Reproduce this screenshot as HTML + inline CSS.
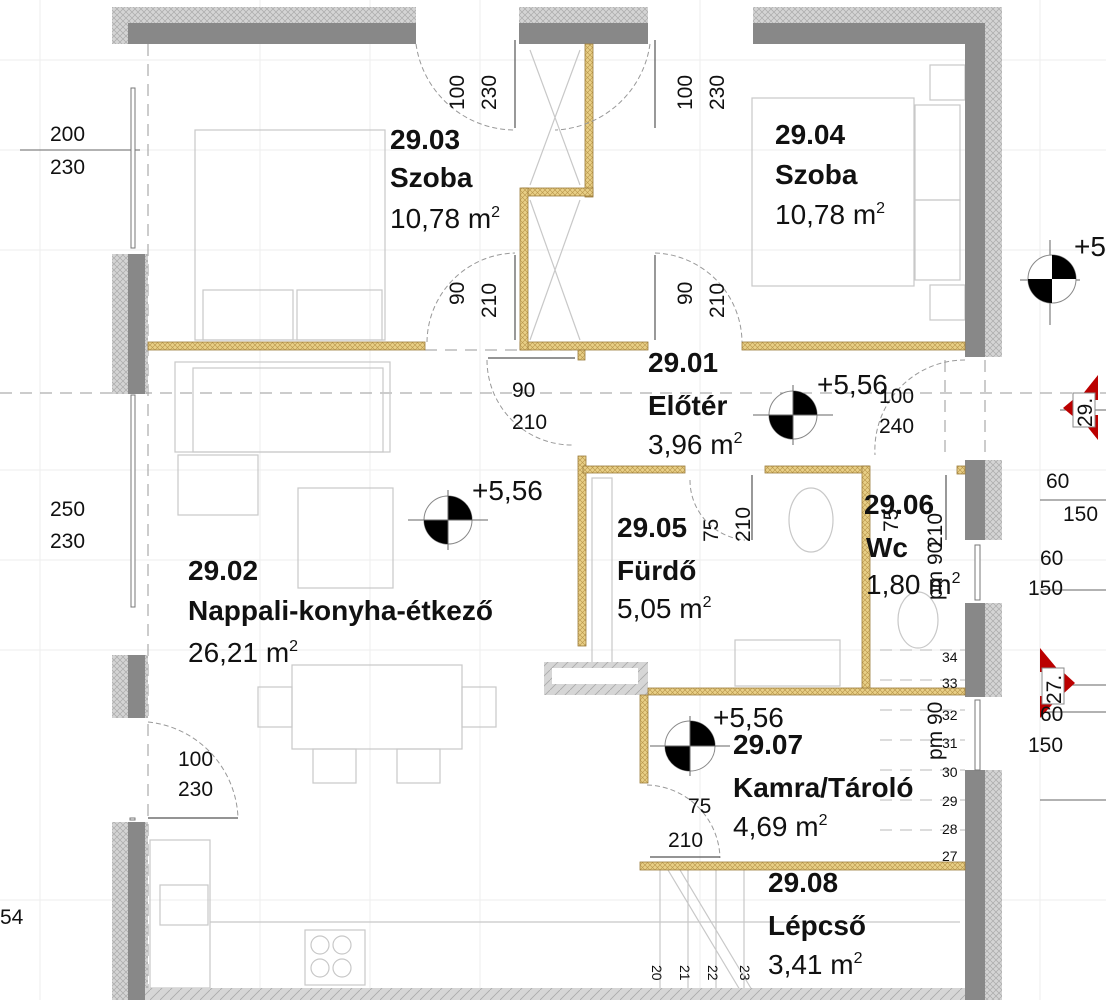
<!DOCTYPE html>
<html><head><meta charset="utf-8"><style>
html,body{margin:0;padding:0;background:#fff;}
svg{display:block;}
text{font-family:"Liberation Sans",Arial,sans-serif;fill:#111;}
.b{font-weight:bold;font-size:28px;}
.n{font-size:28px;}
.d{font-size:21px;}
.s{font-size:14px;fill:#999;}
</style></head><body>
<svg width="1106" height="1000" viewBox="0 0 1106 1000" xmlns="http://www.w3.org/2000/svg">
<defs>
<pattern id="h" width="6" height="6" patternUnits="userSpaceOnUse">
<rect width="6" height="6" fill="#d4d4d4"/><path d="M0 0L6 6M6 0L0 6" stroke="#aaa" stroke-width="0.7"/></pattern>
<pattern id="y" width="5" height="5" patternUnits="userSpaceOnUse">
<rect width="5" height="5" fill="#e8cf86"/><path d="M0 0L5 5M5 0L0 5" stroke="#b8944a" stroke-width="0.6"/></pattern>
<pattern id="g" width="10" height="10" patternUnits="userSpaceOnUse">
<rect width="10" height="10" fill="#d6d6d6"/><path d="M0 10L10 0" stroke="#aaa" stroke-width="0.8"/></pattern>
</defs>
<g stroke="#eee" stroke-width="1">
<path d="M0 60H1106M0 150H1106M0 250H1106M0 470H1106M0 560H1106M0 650H1106M0 900H1106"/>
<path d="M40 0V1000M260 0V1000M370 0V1000M480 0V1000M700 0V1000M1040 0V1000"/>
</g>
<g stroke="#999" stroke-width="1" stroke-dasharray="12 8" fill="none">
<path d="M0 393H1106"/><path d="M148 44V990"/>
<path d="M945 360V460M985 360V460"/><path d="M520 350H585M425 350H520"/>
</g>
<path d="M20 150H140M1040 590H1106M1040 800H1106M1040 500H1106M1040 712H1106M1020 280H1080M1050 240V325M1060 410H1106M1050 685H1106" stroke="#666" stroke-width="1"/>
<g stroke="#c8c8c8" stroke-width="1.2" fill="none">
<rect x="195" y="130" width="190" height="210"/>
<rect x="203" y="290" width="90" height="50"/><rect x="297" y="290" width="85" height="50"/>
<rect x="175" y="362" width="215" height="90"/>
<rect x="193" y="368" width="190" height="84"/>
<rect x="178" y="455" width="80" height="60"/>
<rect x="298" y="488" width="95" height="100"/>
<rect x="292" y="665" width="170" height="84"/>
<rect x="313" y="749" width="43" height="34"/><rect x="397" y="749" width="43" height="34"/>
<rect x="258" y="687" width="34" height="40"/><rect x="462" y="687" width="34" height="40"/>
<rect x="752" y="98" width="162" height="188"/>
<rect x="915" y="105" width="45" height="95"/><rect x="915" y="200" width="45" height="80"/>
<rect x="930" y="65" width="35" height="35"/><rect x="930" y="285" width="35" height="35"/>
<path d="M530 50L580 185M580 50L530 185M530 200L580 340M580 200L530 340"/>
<rect x="150" y="840" width="60" height="148"/>
<rect x="160" y="885" width="48" height="40"/>
<rect x="305" y="930" width="60" height="55"/>
<circle cx="320" cy="945" r="9"/><circle cx="342" cy="945" r="9"/><circle cx="320" cy="968" r="9"/><circle cx="342" cy="968" r="9"/>
<path d="M210 922H960"/>
<ellipse cx="811" cy="520" rx="22" ry="32"/>
<ellipse cx="918" cy="620" rx="20" ry="28"/>
<rect x="735" y="640" width="105" height="46"/>
<rect x="592" y="478" width="20" height="200"/>
<path d="M668 870L740 990M680 870L752 990"/>
<path d="M660 870V988M688 870V988M716 870V988M744 870V988"/>
<path d="M880 650H965M880 680H965M880 710H965M880 740H965M880 770H965M880 800H965M880 830H965" stroke-dasharray="12 8"/>
</g>
<g>
<rect x="112" y="7" width="304" height="16" fill="url(#h)"/><rect x="112" y="23" width="304" height="21" fill="#888"/>
<rect x="519" y="7" width="129" height="16" fill="url(#h)"/><rect x="519" y="23" width="129" height="21" fill="#888"/>
<rect x="753" y="7" width="249" height="16" fill="url(#h)"/><rect x="753" y="23" width="232" height="21" fill="#888"/>
<rect x="985" y="7" width="17" height="350" fill="url(#h)"/><rect x="965" y="23" width="20" height="334" fill="#888"/>
<rect x="965" y="460" width="20" height="80" fill="#888"/><rect x="985" y="460" width="17" height="80" fill="url(#h)"/>
<rect x="965" y="603" width="20" height="94" fill="#888"/><rect x="985" y="603" width="17" height="94" fill="url(#h)"/>
<rect x="965" y="770" width="20" height="230" fill="#888"/><rect x="985" y="770" width="17" height="230" fill="url(#h)"/>
<rect x="112" y="7" width="16" height="37" fill="url(#h)"/>
<rect x="112" y="254" width="16" height="140" fill="url(#h)"/><rect x="128" y="254" width="17" height="140" fill="#888"/><rect x="145" y="254" width="3" height="140" fill="url(#h)"/>
<rect x="112" y="655" width="16" height="63" fill="url(#h)"/><rect x="128" y="655" width="17" height="63" fill="#888"/><rect x="145" y="655" width="3" height="63" fill="url(#h)"/>
<rect x="112" y="822" width="16" height="178" fill="url(#h)"/><rect x="128" y="822" width="17" height="178" fill="#888"/><rect x="145" y="822" width="3" height="178" fill="url(#h)"/>
<rect x="145" y="988" width="820" height="12" fill="url(#g)"/>
<rect x="544" y="662" width="104" height="33" fill="url(#g)"/><rect x="552" y="668" width="86" height="16" fill="#fff"/>
</g>
<g stroke="#777" stroke-width="1" fill="#fff">
<rect x="131" y="88" width="4" height="160"/><rect x="131" y="395" width="4" height="212"/>
<rect x="975" y="545" width="5" height="55"/><rect x="975" y="700" width="5" height="70"/>
<rect x="130" y="818" width="5" height="2"/>
</g>
<g fill="url(#y)" stroke="#9a7a3a" stroke-width="0.8">
<rect x="148" y="342" width="277" height="8"/>
<rect x="520" y="342" width="128" height="8"/>
<rect x="742" y="342" width="223" height="8"/>
<rect x="585" y="44" width="8" height="153"/>
<rect x="522" y="188" width="71" height="8"/>
<rect x="520" y="188" width="8" height="162"/>
<rect x="578" y="350" width="7" height="10"/>
<rect x="578" y="456" width="8" height="190"/>
<rect x="583" y="466" width="102" height="7"/>
<rect x="765" y="466" width="104" height="7"/>
<rect x="862" y="466" width="8" height="224"/>
<rect x="957" y="466" width="8" height="8"/>
<rect x="648" y="688" width="317" height="7"/>
<rect x="640" y="695" width="8" height="88"/>
<rect x="640" y="862" width="325" height="8"/>
</g>
<g stroke="#999" stroke-width="1" fill="none" stroke-dasharray="5 3">
<path d="M416 44A100 100 0 0 0 516 130"/><path d="M650 44A100 100 0 0 1 555 130"/>
<path d="M427 342A90 90 0 0 1 515 253"/><path d="M655 253A90 90 0 0 1 742 342"/>
<path d="M487 360A85 85 0 0 0 572 445"/>
<path d="M965 360A90 90 0 0 0 875 455"/>
<path d="M148 722A100 100 0 0 1 238 818"/>
<path d="M647 785A75 75 0 0 1 720 858"/>
<path d="M690 480A60 60 0 0 0 745 540"/>
</g>
<g stroke="#555" stroke-width="1.2">
<path d="M515 40V128M655 40V128M515 255V340M655 255V340M488 358H575M148 818H238M650 857H720M752 475V540M946 475V540"/>
</g>
<g>
<g transform="translate(448,520)"><circle r="24" fill="#fff" stroke="#888"/><path d="M0 0V-24A24 24 0 0 1 24 0Z M0 0V24A24 24 0 0 1 -24 0Z" fill="#000"/><path d="M-40 0H40M0 -30V30" stroke="#666"/></g>
<g transform="translate(793,415)"><circle r="24" fill="#fff" stroke="#888"/><path d="M0 0V-24A24 24 0 0 1 24 0Z M0 0V24A24 24 0 0 1 -24 0Z" fill="#000"/><path d="M-40 0H40M0 -30V30" stroke="#666"/></g>
<g transform="translate(1052,279)"><circle r="24" fill="#fff" stroke="#888"/><path d="M0 0V-24A24 24 0 0 1 24 0Z M0 0V24A24 24 0 0 1 -24 0Z" fill="#000"/></g>
<g transform="translate(690,746)"><circle r="25" fill="#fff" stroke="#888"/><path d="M0 0V-25A25 25 0 0 1 25 0Z M0 0V25A25 25 0 0 1 -25 0Z" fill="#000"/><path d="M-40 0H40M0 -30V30" stroke="#666"/></g>
</g>
<g fill="#b00">
<path d="M1098 375L1098 400L1078 400Z"/><path d="M1098 440L1098 415L1078 415Z"/><path d="M1063 408L1075 398V418Z"/>
<path d="M1040 648L1040 672L1060 672Z"/><path d="M1040 718L1040 696L1060 696Z"/><path d="M1075 683L1063 672V694Z"/>
</g>
<rect x="1073" y="393" width="22" height="34" fill="#fff" stroke="#888"/>
<text class="d" transform="translate(1092,427) rotate(-90)">29.</text>
<rect x="1042" y="668" width="22" height="36" fill="#fff" stroke="#888"/>
<text class="d" transform="translate(1061,704) rotate(-90)">27.</text>
<text class="b" x="390" y="149">29.03</text><text class="b" x="390" y="187">Szoba</text><text class="n" x="390" y="228">10,78 m<tspan font-size="16" dy="-11">2</tspan></text>
<text class="b" x="775" y="144">29.04</text><text class="b" x="775" y="184">Szoba</text><text class="n" x="775" y="224">10,78 m<tspan font-size="16" dy="-11">2</tspan></text>
<text class="b" x="648" y="372">29.01</text><text class="b" x="648" y="415">Előtér</text><text class="n" x="648" y="454">3,96 m<tspan font-size="16" dy="-11">2</tspan></text>
<text class="b" x="617" y="537">29.05</text><text class="b" x="617" y="580">Fürdő</text><text class="n" x="617" y="618">5,05 m<tspan font-size="16" dy="-11">2</tspan></text>
<text class="b" x="864" y="514">29.06</text><text class="b" x="866" y="557">Wc</text><text class="n" x="866" y="594">1,80 m<tspan font-size="16" dy="-11">2</tspan></text>
<text class="b" x="188" y="580">29.02</text><text class="b" x="188" y="620">Nappali-konyha-étkező</text><text class="n" x="188" y="662">26,21 m<tspan font-size="16" dy="-11">2</tspan></text>
<text class="b" x="733" y="754">29.07</text><text class="b" x="733" y="797">Kamra/Tároló</text><text class="n" x="733" y="836">4,69 m<tspan font-size="16" dy="-11">2</tspan></text>
<text class="b" x="768" y="892">29.08</text><text class="b" x="768" y="935">Lépcső</text><text class="n" x="768" y="974">3,41 m<tspan font-size="16" dy="-11">2</tspan></text>
<text class="n" x="472" y="500">+5,56</text><text class="n" x="817" y="394">+5,56</text><text class="n" x="713" y="727">+5,56</text><text class="n" x="1074" y="256">+5</text>
<g>
<text class="d" x="50" y="141">200</text><text class="d" x="50" y="174">230</text>
<text class="d" x="50" y="516">250</text><text class="d" x="50" y="548">230</text>
<text class="d" x="178" y="766">100</text><text class="d" x="178" y="796">230</text>
<text class="d" x="512" y="397">90</text><text class="d" x="512" y="429">210</text>
<text class="d" x="879" y="403">100</text><text class="d" x="879" y="433">240</text>
<text class="d" x="1046" y="488">60</text><text class="d" x="1063" y="521">150</text>
<text class="d" x="1040" y="565">60</text><text class="d" x="1028" y="595">150</text>
<text class="d" x="1040" y="721">60</text><text class="d" x="1028" y="752">150</text>
<text class="d" x="688" y="813">75</text><text class="d" x="668" y="847">210</text>
<text class="d" x="0" y="924">54</text>
<text class="d" transform="translate(464,110) rotate(-90)">100</text><text class="d" transform="translate(496,110) rotate(-90)">230</text>
<text class="d" transform="translate(692,110) rotate(-90)">100</text><text class="d" transform="translate(724,110) rotate(-90)">230</text>
<text class="d" transform="translate(464,305) rotate(-90)">90</text><text class="d" transform="translate(496,318) rotate(-90)">210</text>
<text class="d" transform="translate(692,305) rotate(-90)">90</text><text class="d" transform="translate(724,318) rotate(-90)">210</text>
<text class="d" transform="translate(718,542) rotate(-90)">75</text><text class="d" transform="translate(750,542) rotate(-90)">210</text>
<text class="d" transform="translate(898,532) rotate(-90)">75</text><text class="d" transform="translate(942,548) rotate(-90)">210</text>
<text class="d" transform="translate(942,600) rotate(-90)">pm 90</text>
<text class="d" transform="translate(942,760) rotate(-90)">pm 90</text>
</g>
<g class="s">
<text x="942" y="662">34</text><text x="942" y="688">33</text><text x="942" y="720">32</text><text x="942" y="748">31</text><text x="942" y="777">30</text><text x="942" y="806">29</text><text x="942" y="834">28</text><text x="942" y="861">27</text>
<text transform="translate(652,965) rotate(90)">20</text><text transform="translate(680,965) rotate(90)">21</text><text transform="translate(708,965) rotate(90)">22</text><text transform="translate(740,965) rotate(90)">23</text>
</g>
</svg>
</body></html>
